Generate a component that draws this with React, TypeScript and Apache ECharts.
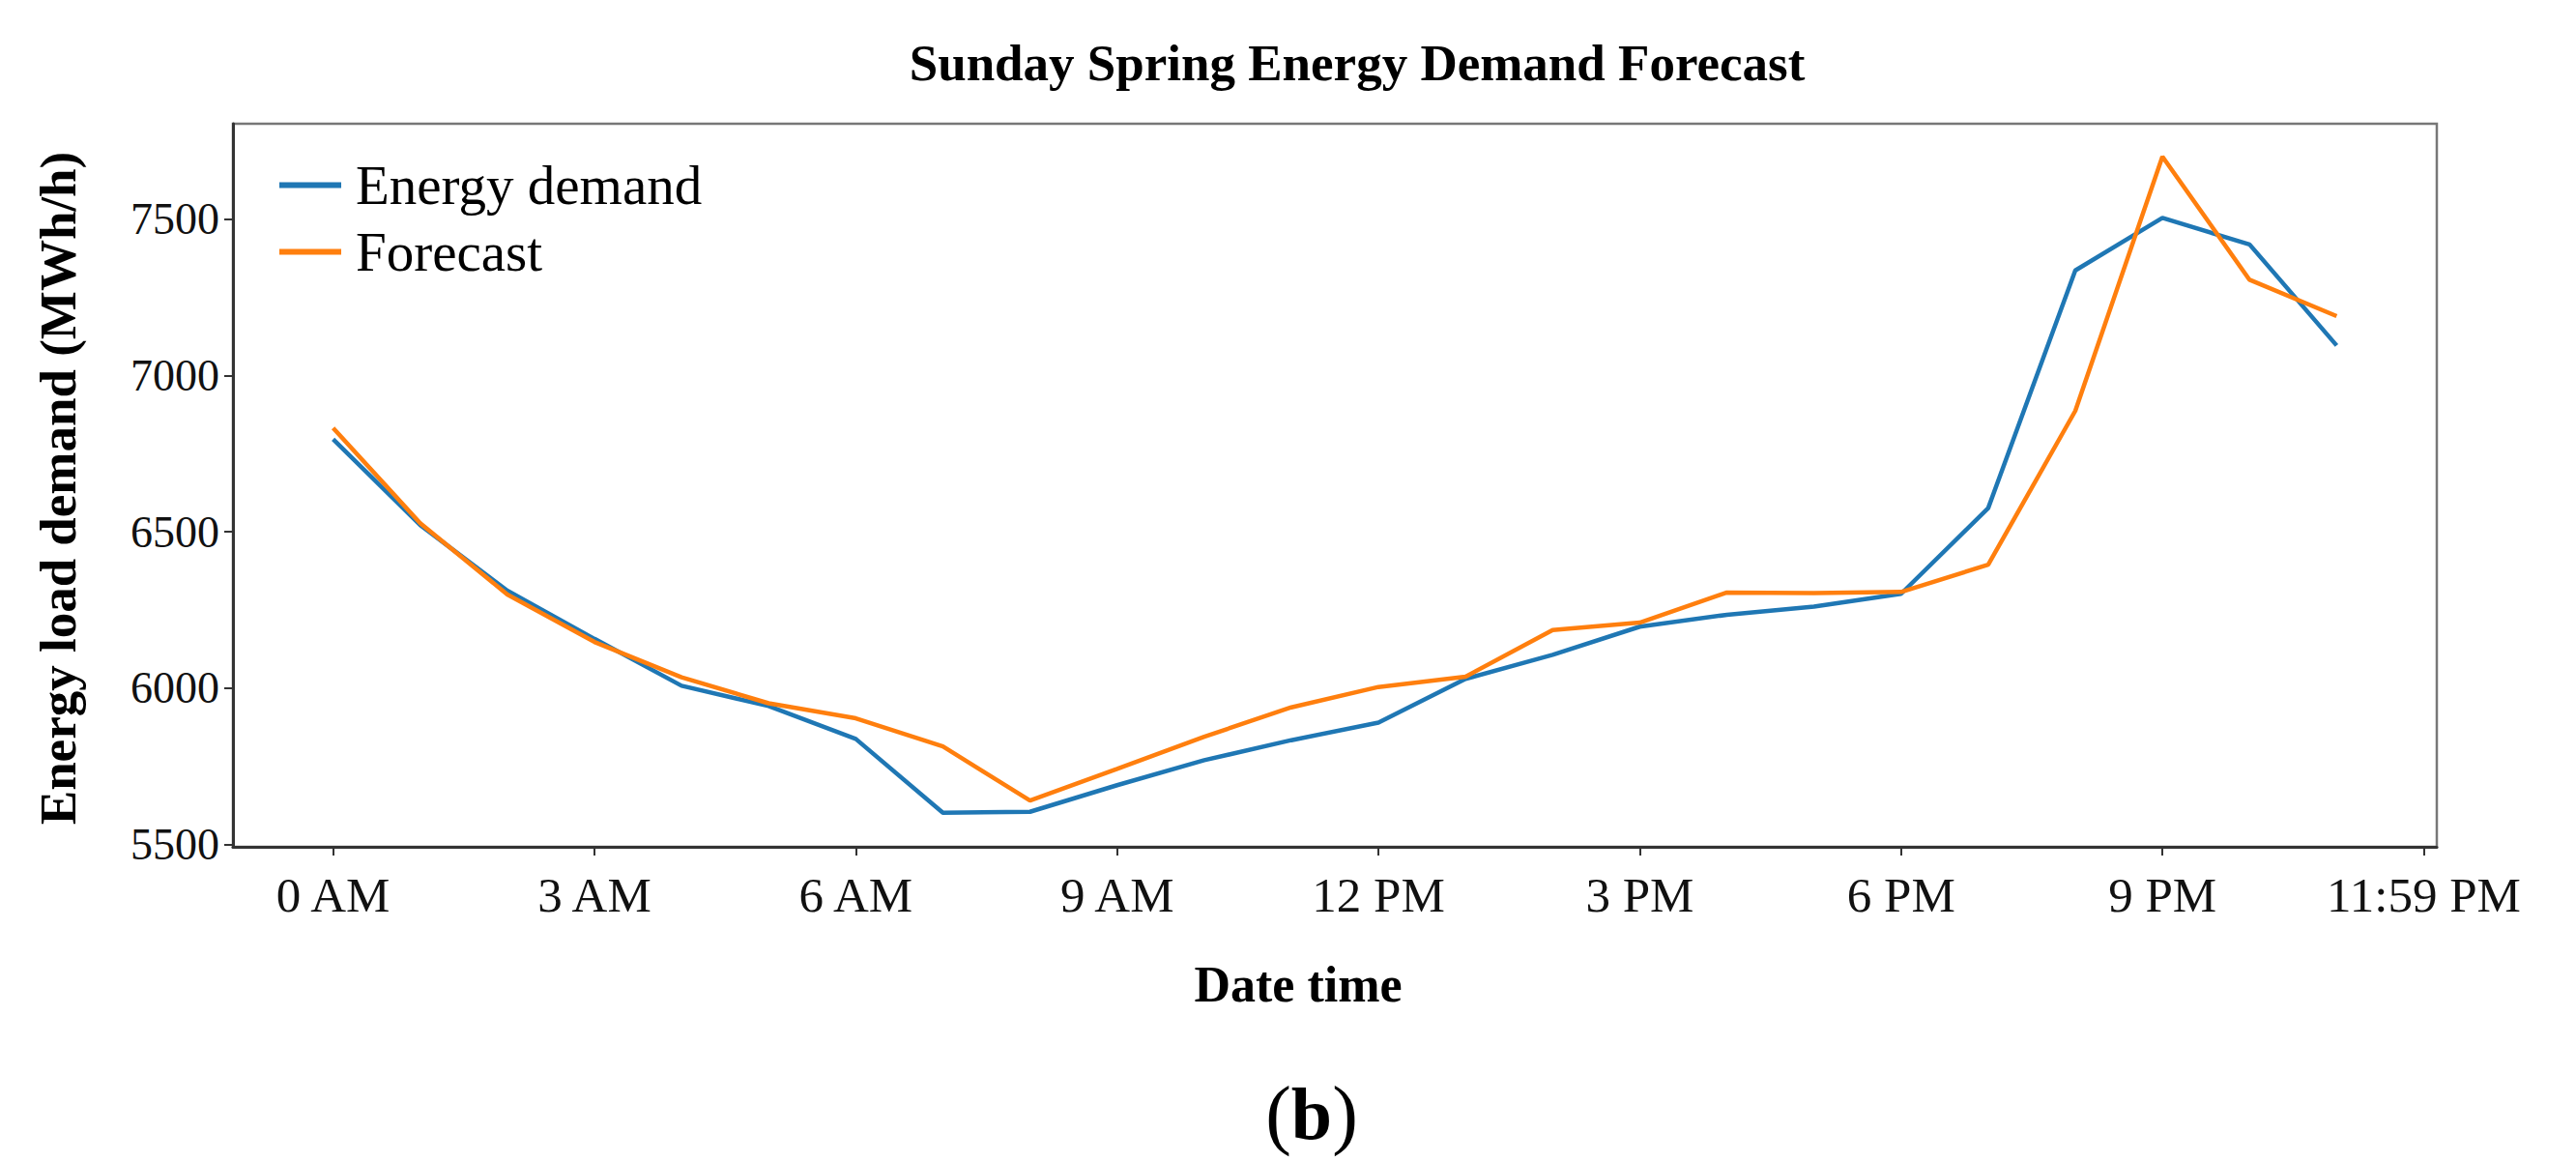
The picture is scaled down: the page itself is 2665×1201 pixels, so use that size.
import React, { useEffect, useRef } from "react";
import * as echarts from "echarts";

const hours = [0, 1, 2, 3, 4, 5, 6, 7, 8, 9, 10, 11, 12, 13, 14, 15, 16, 17, 18, 19, 20, 21, 22, 23];
const energyDemand = [6796, 6522, 6312, 6158, 6008, 5943, 5838, 5602, 5605, 5690, 5770, 5834, 5890, 6030, 6107, 6197, 6235, 6261, 6302, 6576, 7336, 7504, 7419, 7096];
const forecast = [6832, 6528, 6300, 6148, 6035, 5952, 5904, 5814, 5641, 5742, 5845, 5939, 6004, 6037, 6186, 6210, 6306, 6304, 6308, 6395, 6887, 7700, 7306, 7190];
const xTickValues = [0, 3, 6, 9, 12, 15, 18, 21, 24];
const xTickLabels = ["0 AM", "3 AM", "6 AM", "9 AM", "12 PM", "3 PM", "6 PM", "9 PM", "11:59 PM"];
const yTickValues = [5500, 6000, 6500, 7000, 7500];

const FONT = "Liberation Serif";

export default function App() {
  const ref = useRef<HTMLDivElement>(null);
  useEffect(() => {
    if (!ref.current) return;
    const chart = echarts.init(ref.current, undefined, { renderer: "svg" });
    chart.setOption({
      animation: false,
      backgroundColor: "#ffffff",
      textStyle: { fontFamily: FONT, color: "#000" },
      title: {
        text: "Sunday Spring Energy Demand Forecast",
        left: 1399,
        top: 33,
        textAlign: "center",
        textStyle: { fontFamily: FONT, fontSize: 53, fontWeight: "bold", color: "#000" },
      },
      legend: {
        orient: "vertical",
        left: 284,
        top: 158,
        itemWidth: 64,
        itemHeight: 6,
        itemGap: 12,
        icon: "rect",
        textStyle: { fontFamily: FONT, fontSize: 57, color: "#000", padding: [0, 0, 0, 10] },
        data: ["Energy demand", "Forecast"],
      },
      grid: {
        left: 241,
        right: 144,
        top: 128,
        bottom: 325,
        show: true,
        borderColor: "#777",
        borderWidth: 2.5,
        backgroundColor: "transparent",
      },
      xAxis: {
        type: "value",
        min: -1.15,
        max: 24.15,
        splitLine: { show: false },
        axisLine: { show: true, onZero: false, lineStyle: { color: "#333", width: 3 } },
        axisTick: { show: true, customValues: xTickValues, length: 9, lineStyle: { color: "#333", width: 2 } },
        axisLabel: {
          customValues: xTickValues,
          margin: 24,
          fontFamily: FONT,
          fontSize: 51,
          color: "#111",
          formatter: (v: number) => {
            const i = xTickValues.indexOf(v);
            return i >= 0 ? xTickLabels[i] : "";
          },
        },
      },
      yAxis: {
        type: "value",
        min: 5493,
        max: 7805,
        splitLine: { show: false },
        axisLine: { show: true, onZero: false, lineStyle: { color: "#333", width: 3 } },
        axisTick: { show: true, customValues: yTickValues, length: 9, lineStyle: { color: "#333", width: 2 } },
        axisLabel: {
          customValues: yTickValues,
          margin: 14,
          fontFamily: FONT,
          fontSize: 46,
          color: "#111",
          formatter: (v: number) => String(v),
        },
      },
      graphic: [
        {
          type: "text",
          x: 1343,
          y: 1018,
          style: { text: "Date time", fontFamily: FONT, fontSize: 52, fontWeight: "bold", fill: "#000", align: "center", verticalAlign: "middle" },
        },
        {
          type: "text",
          x: 60,
          y: 505,
          rotation: Math.PI / 2,
          style: { text: "Energy load demand (MWh/h)", fontFamily: FONT, fontSize: 53, fontWeight: "bold", fill: "#000", align: "center", verticalAlign: "middle" },
        },
        {
          type: "text",
          x: 1357,
          y: 1152,
          style: {
            text: "{p|(}{b|b}{p|)}",
            align: "center",
            verticalAlign: "middle",
            rich: {
              p: { fontFamily: FONT, fontSize: 80, fontWeight: "normal", fill: "#000" },
              b: { fontFamily: FONT, fontSize: 76, fontWeight: "bold", fill: "#000" },
            },
          },
        },
      ],
      series: [
        {
          name: "Energy demand",
          type: "line",
          data: hours.map((h, i) => [h, energyDemand[i]]),
          symbol: "none",
          lineStyle: { color: "#1f77b4", width: 4.5 },
          itemStyle: { color: "#1f77b4" },
          z: 3,
        },
        {
          name: "Forecast",
          type: "line",
          data: hours.map((h, i) => [h, forecast[i]]),
          symbol: "none",
          lineStyle: { color: "#ff7f0e", width: 4.5 },
          itemStyle: { color: "#ff7f0e" },
          z: 4,
        },
      ],
    });
    return () => chart.dispose();
  }, []);
  return <div ref={ref} style={{ position: "absolute", left: 0, top: 0, width: 2665, height: 1201 }} />;
}
